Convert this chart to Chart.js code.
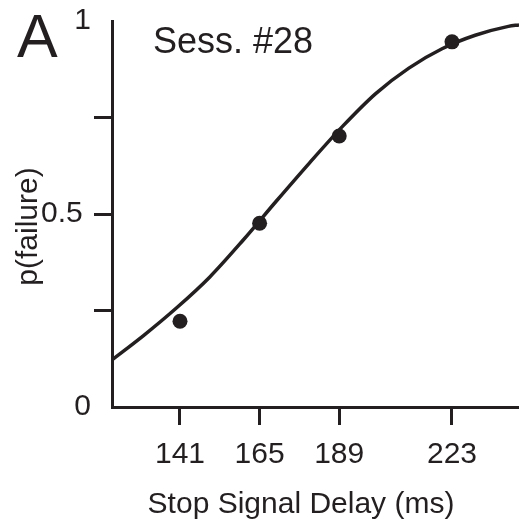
<!DOCTYPE html>
<html><head><meta charset="utf-8">
<script src="https://cdn.jsdelivr.net/npm/chart.js@4/dist/chart.umd.min.js"></script>
<style>html,body{margin:0;padding:0;background:#fff;} #wrap{width:519px;height:529px;position:relative;}</style>
</head><body><div id="wrap"><canvas id="c"></canvas></div>
<script>
const panelLabel = 'A';
const sessionLabel = 'Sess. #28';
const xTitle = 'Stop Signal Delay (ms)';
const yTitle = 'p(failure)';
const xTickValues = [141, 165, 189, 223];
const yTickValues = [0, 0.25, 0.5, 0.75, 1];
const yTickLabels = ['0', '', '0.5 ', '', '1'];
const delays = [141, 165, 189, 223];
const pFailure = [0.222, 0.476, 0.702, 0.946];
const fitDelays = [120.5, 130, 140, 150, 160, 170, 180, 190, 200, 210, 220, 230, 240, 243.2];
const fitP = [0.122, 0.185, 0.257, 0.337, 0.432, 0.533, 0.632, 0.727, 0.812, 0.878, 0.928, 0.963, 0.986, 0.990];

const ink = '#231f20';
const family = "'Liberation Sans', Arial, Helvetica, sans-serif";

const textPlugin = {
  id: 'panelText',
  afterDraw(chart) {
    const ctx = chart.ctx;
    ctx.save();
    ctx.fillStyle = ink;
    ctx.textBaseline = 'alphabetic';
    ctx.textAlign = 'left';
    ctx.font = '61px ' + family;
    ctx.fillText(panelLabel, 17, 57);
    ctx.font = '36px ' + family;
    ctx.fillText(sessionLabel, 153, 53);
    ctx.font = '30px ' + family;
    ctx.textAlign = 'center';
    ctx.fillText(xTitle, 301, 513);
    ctx.translate(37, 226.5);
    ctx.rotate(-Math.PI / 2);
    ctx.fillText(yTitle, 0, 0);
    ctx.restore();
  }
};

new Chart(document.getElementById('c'), {
  type: 'scatter',
  data: {
    datasets: [
      {
        type: 'line',
        data: fitDelays.map((x, i) => ({x, y: fitP[i]})),
        borderColor: ink,
        borderWidth: 3.5,
        pointRadius: 0,
        fill: false,
        tension: 0.4,
        cubicInterpolationMode: 'monotone'
      },
      {
        data: delays.map((x, i) => ({x, y: pFailure[i]})),
        backgroundColor: ink,
        borderWidth: 0,
        pointRadius: 7.5,
        pointHoverRadius: 7.5
      }
    ]
  },
  options: {
    responsive: true,
    maintainAspectRatio: false,
    animation: false,
    events: [],
    layout: {autoPadding: false, padding: {top: 20, right: 0, left: 0, bottom: 0}},
    plugins: {legend: {display: false}, tooltip: {enabled: false}},
    scales: {
      x: {
        type: 'linear',
        min: 120.5,
        max: 243.2,
        afterBuildTicks: s => { s.ticks = xTickValues.map(v => ({value: v})); },
        afterFit: s => { s.height = 122; s.paddingLeft = 0; s.paddingRight = 0; },
        ticks: {
          autoSkip: false, maxRotation: 0, padding: 12, color: ink,
          font: {family, size: 30},
          callback: v => String(v)
        },
        grid: {drawOnChartArea: false, tickLength: 18, tickWidth: 3, tickColor: ink},
        border: {display: true, color: ink, width: 3}
      },
      y: {
        type: 'linear',
        min: 0,
        max: 1,
        afterBuildTicks: s => { s.ticks = yTickValues.map(v => ({value: v})); },
        afterFit: s => { s.width = 112; },
        ticks: {
          autoSkip: false, padding: 3, color: ink,
          font: {family, size: 30},
          callback: (v, i) => yTickLabels[i]
        },
        grid: {
          drawOnChartArea: false, tickLength: 18, tickWidth: 3,
          tickColor: c => (c.tick && (c.tick.value === 0 || c.tick.value === 1)) ? 'rgba(0,0,0,0)' : ink
        },
        border: {display: true, color: ink, width: 3}
      }
    }
  },
  plugins: [textPlugin]
});
</script>
</body></html>
